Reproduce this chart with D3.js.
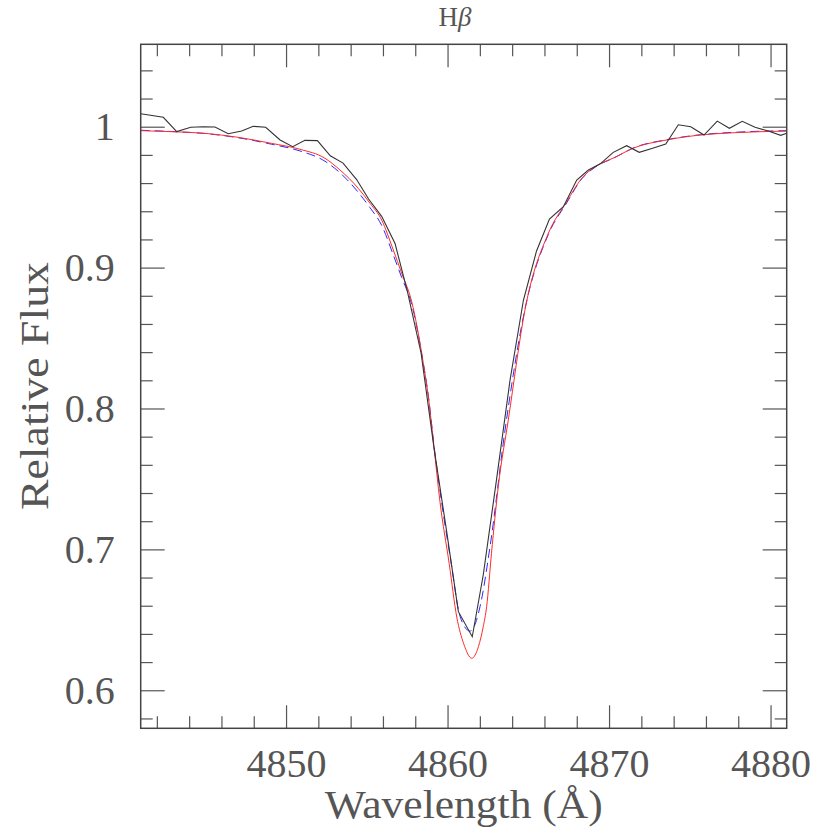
<!DOCTYPE html>
<html>
<head>
<meta charset="utf-8">
<script src="https://cdn.jsdelivr.net/npm/d3@7"></script>
<style>
  body { margin:0; background:#fff; }
  svg text { font-family:"Liberation Serif", "DejaVu Serif", serif; fill:#555; }
</style>
</head>
<body>
<div id="chart"></div>
<script>
// observed spectrum (black)
var obsWave = [4841.00,4842.40,4843.23,4844.10,4844.88,4845.60,4846.42,4847.25,4847.97,4848.74,
  4849.63,4850.41,4851.17,4851.94,4852.74,4853.53,4854.37,4855.11,4855.92,4856.75,
  4857.52,4858.36,4859.18,4859.93,4860.67,4861.53,4862.21,4863.03,4863.87,4864.70,
  4865.51,4866.31,4867.17,4868.00,4868.72,4869.44,4870.26,4871.09,4871.87,4872.70,
  4873.51,4874.29,4875.06,4875.88,4876.70,4877.45,4878.25,4879.04,4879.86,4880.63,4881.00];
var obsFlux = [1.0092,1.0067,0.9965,0.9996,1.0000,0.9998,0.9950,0.9969,1.0003,0.9996,
  0.9906,0.9858,0.9903,0.9901,0.9794,0.9742,0.9625,0.9487,0.9364,0.9171,
  0.8827,0.8394,0.7705,0.7138,0.6558,0.6380,0.6818,0.7493,0.8202,0.8770,
  0.9118,0.9345,0.9432,0.9622,0.9693,0.9735,0.9818,0.9865,0.9818,0.9847,
  0.9877,1.0014,1.0000,0.9941,1.0040,0.9989,1.0038,0.9996,0.9969,0.9939,0.9953];

// model 1 (red, solid)
var redWave = [4841.00,4842.89,4844.96,4847.02,4849.09,4850.86,4852.41,4853.34,4854.47,4855.20,
  4855.92,4856.64,4857.16,4857.78,4858.50,4858.81,4859.18,4859.53,4860.10,4860.57,4861.00,
  4861.50,4861.91,4862.21,4862.42,4862.72,4863.14,4863.76,4864.80,4866.24,4867.38,
  4868.31,4869.13,4870.37,4871.48,4873.57,4875.65,4877.68,4881.00];
var redFlux = [0.9972,0.9965,0.9953,0.9925,0.9882,0.9840,0.9776,0.9693,0.9563,0.9456,
  0.9338,0.9125,0.8960,0.8758,0.8321,0.8084,0.7705,0.7339,0.6900,0.6520,0.6330,
  0.6227,0.6309,0.6451,0.6593,0.6972,0.7445,0.7918,0.8704,0.9243,0.9468,
  0.9634,0.9716,0.9783,0.9847,0.9906,0.9941,0.9957,0.9969];

// model 2 (blue, dashed)
var blueWave = [4841.00,4842.89,4844.96,4847.02,4849.09,4850.86,4852.41,4853.34,4854.47,4855.20,
  4855.92,4856.64,4857.16,4857.78,4858.50,4858.81,4859.18,4859.64,4860.20,4860.78,4861.39,
  4861.59,4862.01,4862.63,4863.56,4864.80,4866.24,4867.38,4868.31,4869.13,4870.37,
  4871.48,4873.57,4875.65,4877.68,4881.00];
var blueFlux = [0.9975,0.9966,0.9952,0.9922,0.9876,0.9828,0.9755,0.9673,0.9535,0.9425,
  0.9300,0.9090,0.8930,0.8740,0.8320,0.8090,0.7720,0.7329,0.6920,0.6522,0.6420,
  0.6440,0.6593,0.7019,0.7847,0.8710,0.9235,0.9460,0.9630,0.9712,0.9782,
  0.9848,0.9908,0.9943,0.9960,0.9972];

var xMajor = [4850, 4860, 4870, 4880];
var xMinor = d3.range(4842, 4881, 2);
var yMajor = [0.6, 0.7, 0.8, 0.9, 1.0];
var yMinor = d3.range(0.58, 1.05, 0.02);

var W = 830, H = 830;
var svg = d3.select("#chart").append("svg").attr("width", W).attr("height", H);

var x = d3.scaleLinear().domain([4841, 4881]).range([140.7, 786.7]);
var y = d3.scaleLinear().domain([0.573, 1.0585]).range([728.3, 44.3]);

svg.append("clipPath").attr("id", "plotclip")
  .append("rect").attr("x", x.range()[0]).attr("y", y.range()[1])
  .attr("width", x.range()[1] - x.range()[0]).attr("height", y.range()[0] - y.range()[1]);

function zip(a, b) { return a.map(function(v, i) { return [v, b[i]]; }); }

var line = d3.line().x(function(d) { return x(d[0]); }).y(function(d) { return y(d[1]); });
var smooth = d3.line().curve(d3.curveMonotoneX).x(function(d) { return x(d[0]); }).y(function(d) { return y(d[1]); });

var plot = svg.append("g").attr("clip-path", "url(#plotclip)");

plot.append("path").datum(zip(blueWave, blueFlux)).attr("d", smooth)
  .attr("fill", "none").attr("stroke", "#2a2aff").attr("stroke-width", 1)
  .attr("stroke-dasharray", "9,5");
plot.append("path").datum(zip(redWave, redFlux)).attr("d", smooth)
  .attr("fill", "none").attr("stroke", "#ff2a2a").attr("stroke-width", 1);
plot.append("path").datum(zip(obsWave, obsFlux)).attr("d", line)
  .attr("fill", "none").attr("stroke", "#333").attr("stroke-width", 1.1);

// axes, ticks pointing inwards on all four sides
var x0 = x.range()[0], x1 = x.range()[1], y0 = y.range()[0], y1 = y.range()[1];
var axisColor = "#555";

function styleAxis(g) {
  g.select(".domain").remove();
  g.selectAll(".tick line").attr("stroke", axisColor).attr("stroke-width", 1.2);
}

svg.append("g").attr("transform", "translate(0," + y0 + ")")
  .call(d3.axisBottom(x).tickValues(xMinor.filter(function(v) { return v % 10 !== 0; })).tickSize(-12).tickFormat(""))
  .call(styleAxis);
svg.append("g").attr("transform", "translate(0," + y1 + ")")
  .call(d3.axisTop(x).tickValues(xMinor.filter(function(v) { return v % 10 !== 0; })).tickSize(-12).tickFormat(""))
  .call(styleAxis);
svg.append("g").attr("transform", "translate(0," + y0 + ")")
  .call(d3.axisBottom(x).tickValues(xMajor).tickSize(-23).tickPadding(20).tickFormat(d3.format("d")))
  .call(styleAxis)
  .selectAll("text").attr("font-size", 40).attr("fill", "#555");
svg.append("g").attr("transform", "translate(0," + y1 + ")")
  .call(d3.axisTop(x).tickValues(xMajor).tickSize(-23).tickFormat(""))
  .call(styleAxis);

var yMinorOnly = yMinor.filter(function(v) { return Math.abs(v * 10 - Math.round(v * 10)) > 1e-6; });
svg.append("g").attr("transform", "translate(" + x0 + ",0)")
  .call(d3.axisLeft(y).tickValues(yMinorOnly).tickSize(-12).tickFormat(""))
  .call(styleAxis);
svg.append("g").attr("transform", "translate(" + x1 + ",0)")
  .call(d3.axisRight(y).tickValues(yMinorOnly).tickSize(-12).tickFormat(""))
  .call(styleAxis);
svg.append("g").attr("transform", "translate(" + x0 + ",0)")
  .call(d3.axisLeft(y).tickValues(yMajor).tickSize(-24).tickPadding(26).tickFormat(function(d) { return d === 1 ? "1" : d3.format(".1f")(d); }))
  .call(styleAxis)
  .selectAll("text").attr("font-size", 40).attr("fill", "#555");
svg.append("g").attr("transform", "translate(" + x1 + ",0)")
  .call(d3.axisRight(y).tickValues(yMajor).tickSize(-24).tickFormat(""))
  .call(styleAxis);

// frame
svg.append("rect").attr("x", x0).attr("y", y1).attr("width", x1 - x0).attr("height", y0 - y1)
  .attr("fill", "none").attr("stroke", "#444").attr("stroke-width", 1.5);

// titles
var title = svg.append("text").attr("x", 455).attr("y", 26).attr("text-anchor", "middle").attr("font-size", 27);
title.append("tspan").text("H");
title.append("tspan").attr("font-style", "italic").text("β");

svg.append("text").attr("x", 463.7).attr("y", 818).attr("text-anchor", "middle")
  .attr("font-size", 40).attr("textLength", 278).attr("lengthAdjust", "spacingAndGlyphs")
  .text("Wavelength (Å)");

svg.append("text").attr("transform", "translate(48,386) rotate(-90)").attr("text-anchor", "middle")
  .attr("font-size", 40).attr("textLength", 248).attr("lengthAdjust", "spacingAndGlyphs")
  .text("Relative Flux");
</script>
</body>
</html>
